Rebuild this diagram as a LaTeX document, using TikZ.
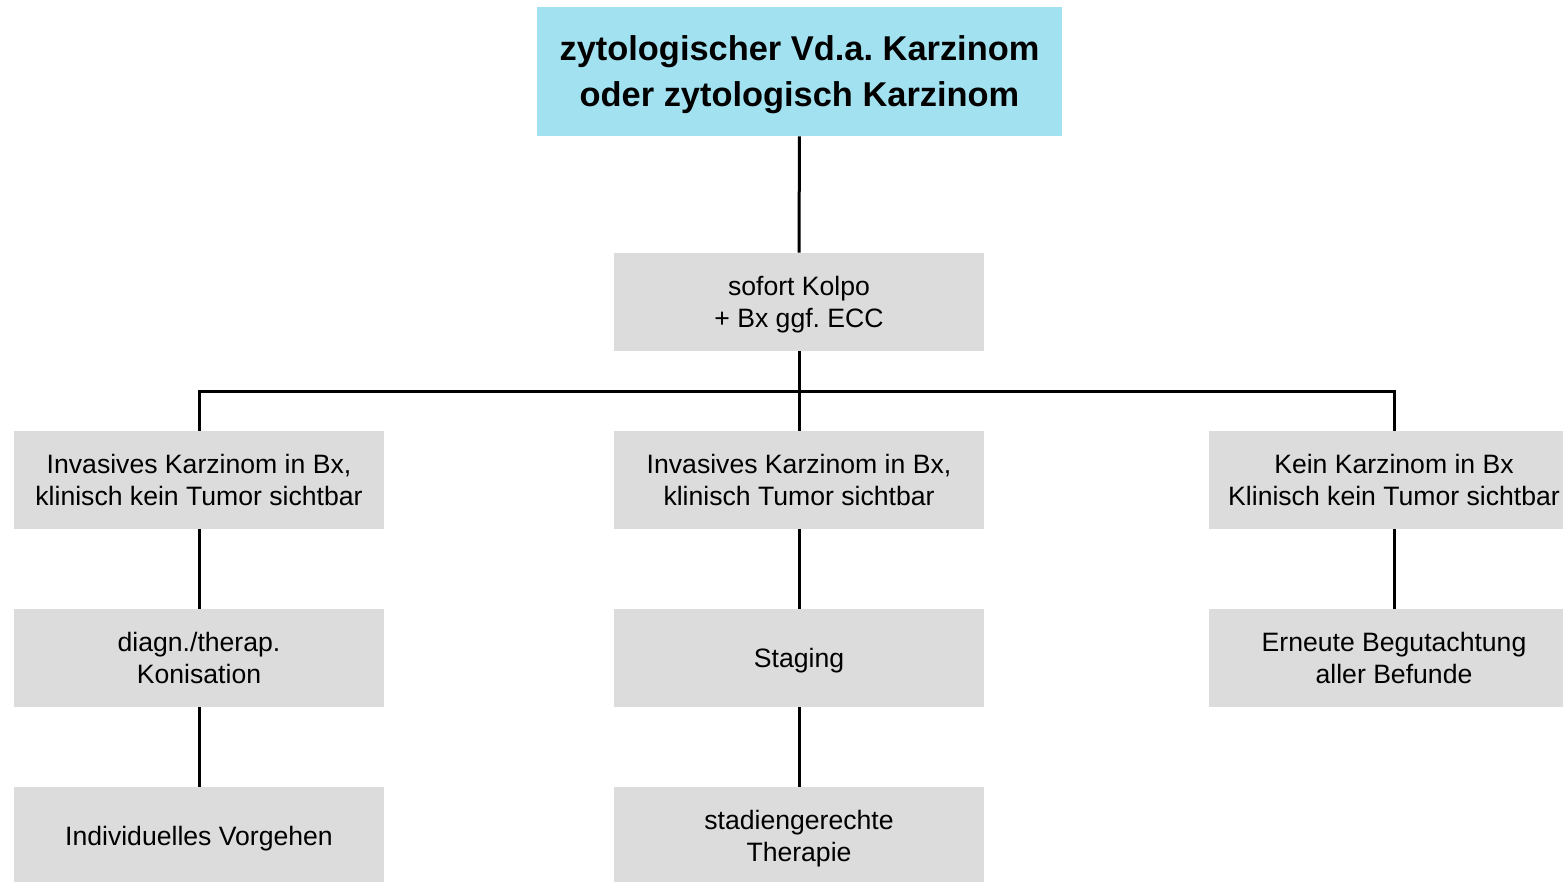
\documentclass[tikz,border=0pt]{standalone}
\usepackage{fontspec}
\setmainfont{Liberation Sans}
\usepackage{xcolor}
\usetikzlibrary{positioning, calc}
\definecolor{titlecyan}{HTML}{A2E1F0}
\definecolor{boxgray}{HTML}{DCDCDC}
\frenchspacing

\begin{document}
\begin{tikzpicture}[
x=0.5pt, y=-0.5pt,
    headbox/.style={rectangle, fill=titlecyan, minimum width=262.5pt, minimum height=64.5pt, align=center, inner sep=0pt, font=\fontsize{17.2}{23}\selectfont\bfseries, text depth=-3pt},
    stepbox/.style={rectangle, fill=boxgray, minimum width=185pt, minimum height=49pt, align=center, inner sep=0pt, font=\fontsize{13.3}{16}\selectfont, text depth=-3.5pt},
    line/.style={draw, line width=1.5pt}
]
    \useasboundingbox (0,0) rectangle (1563,882);
    \clip (0,0) rectangle (1563,882);

    % Top
    \node[headbox] (suspect) at (799.5,71.5) {zytologischer Vd.a. Karzinom\\oder zytologisch Karzinom};
    \node[stepbox] (kolpo) at (799,302) {sofort Kolpo\\+ Bx ggf. ECC};

    % Branches
    \node[stepbox] (invnotumor) at (199,480) {Invasives Karzinom in Bx,\\klinisch kein Tumor sichtbar};
    \node[stepbox] (invtumor) at (799,480) {Invasives Karzinom in Bx,\\klinisch Tumor sichtbar};
    \node[stepbox] (nocarc) at (1394,480) {Kein Karzinom in Bx\\Klinisch kein Tumor sichtbar};

    % Next steps
    \node[stepbox] (konisation) at (199,658) {diagn./therap.\\Konisation};
    \node[stepbox] (staging) at (799,658) {Staging};
    \node[stepbox] (review) at (1394,658) {Erneute Begutachtung\\aller Befunde};

    % Last steps
    \node[stepbox] (individual) at (199,836) {Individuelles Vorgehen};
    \node[stepbox] (therapy) at (799,836) {stadiengerechte\\Therapie};

    \coordinate (split) at (799,391);

    % Edges
    \draw[line] (suspect) -- (kolpo);
    \draw[line] (kolpo) -- (invtumor);
    \draw[line] (invnotumor.north) |- (split) -| (nocarc.north);

    \draw[line] (invnotumor) -- (konisation);
    \draw[line] (konisation) -- (individual);
    \draw[line] (invtumor) -- (staging);
    \draw[line] (staging) -- (therapy);
    \draw[line] (nocarc) -- (review);

\end{tikzpicture}
\end{document}
